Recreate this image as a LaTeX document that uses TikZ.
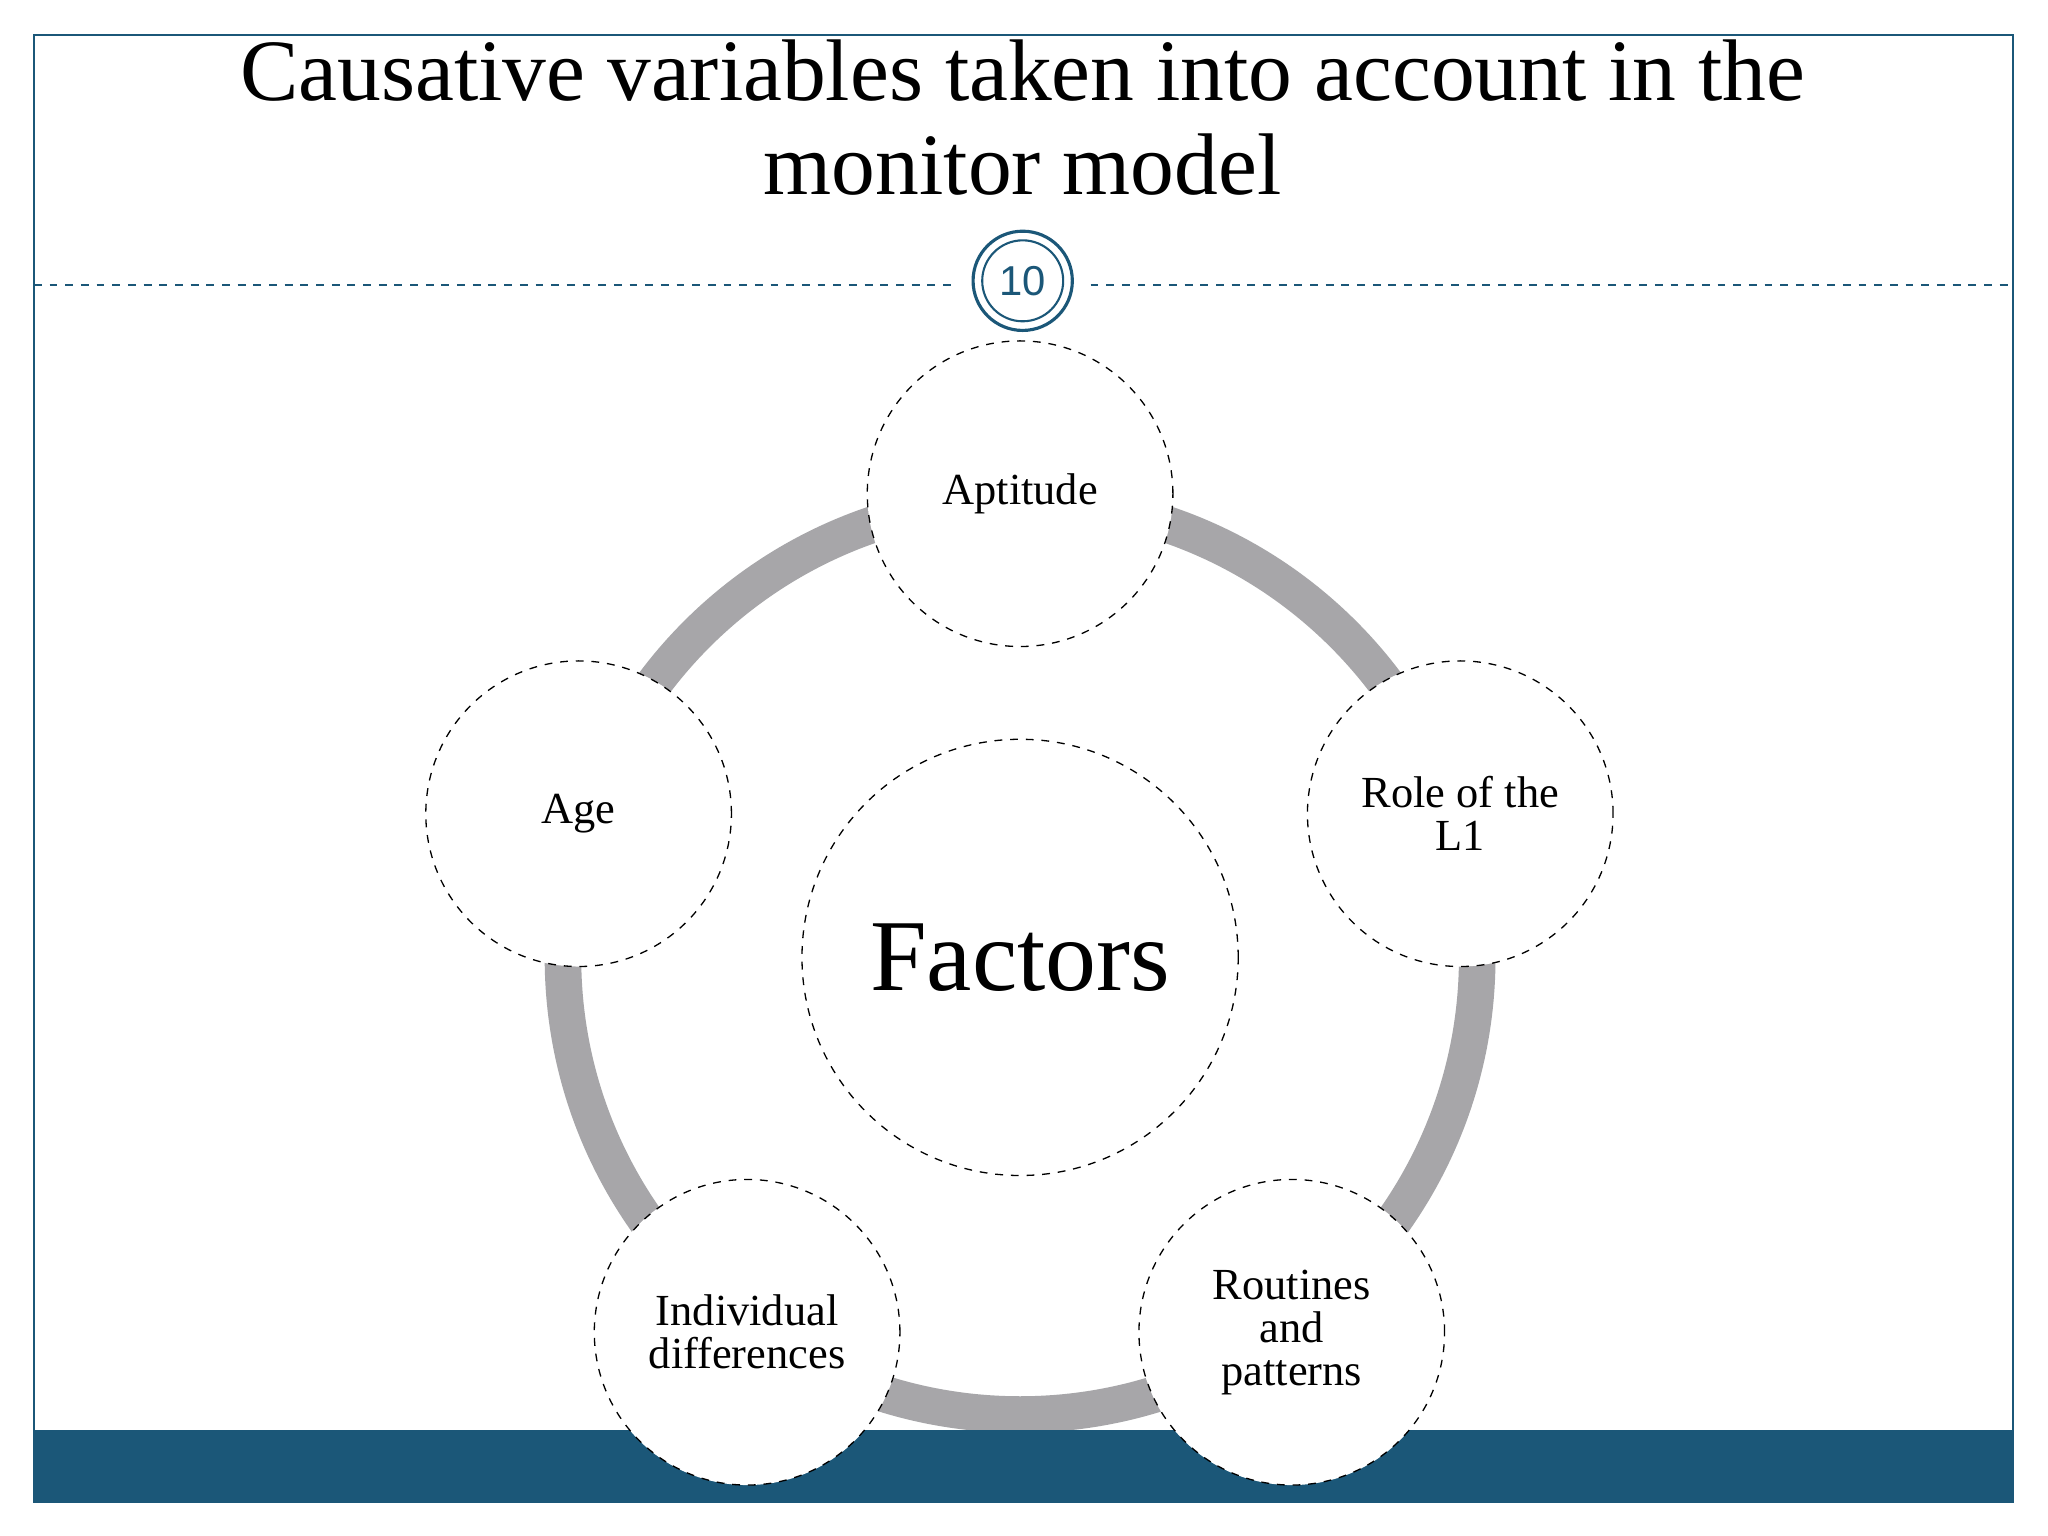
\documentclass[tikz,border=0pt]{standalone}
\usepackage{fontspec}
\setmainfont{Liberation Serif}
\setsansfont{Liberation Sans}
\definecolor{navy}{HTML}{1B5778}
\definecolor{ringgray}{HTML}{A7A6A9}
\begin{document}
\begin{tikzpicture}[x=0.5pt,y=-0.5pt,
  fac/.style={circle,draw=black,dashed,fill=white,minimum size=117pt,inner sep=0pt,align=center,font=\fontsize{17}{16.5}\selectfont,line width=0.5pt}]
\useasboundingbox (0,0) rectangle (1568,1176);
\fill[white] (0,0) rectangle (1568,1176);
\coordinate (c) at (781,733);
\draw[ringgray,line width=14pt] (c) circle[radius=350];
\fill[navy] (26,1095) rectangle (1541,1150);
\draw[navy,line width=0.7pt] (26,27) rectangle (1541,1150);
\node[font=\fontsize{33.5}{36}\selectfont,align=center] (title) at (783,90) {Causative variables taken into account in the\\monitor model};
\coordinate (l1) at (26,218); \coordinate (l2) at (730,218);
\coordinate (r1) at (835,218); \coordinate (r2) at (1541,218);
\draw[navy,dashed,line width=0.6pt] (l1)--(l2) (r1)--(r2);
\node[circle,draw=navy,line width=1.2pt,minimum size=38pt] (no) at (783,215) {};
\node[circle,draw=navy,line width=0.8pt,minimum size=31pt,font=\sffamily\fontsize{16}{16}\selectfont,text=navy] at (783,215) {10};
\node[fac] (apt) at (781,378) {Aptitude};
\node[fac] (role) at (1118,623) {Role of the\\L1};
\node[fac] (rout) at (989,1020) {Routines\\and\\patterns};
\node[fac] (ind) at (572,1020) {Individual\\differences};
\node[fac] (age) at (443,623) {Age};
\node[fac,minimum size=167pt,font=\fontsize{39}{39}\selectfont] (f) at (781,733) {Factors};
\end{tikzpicture}
\end{document}
